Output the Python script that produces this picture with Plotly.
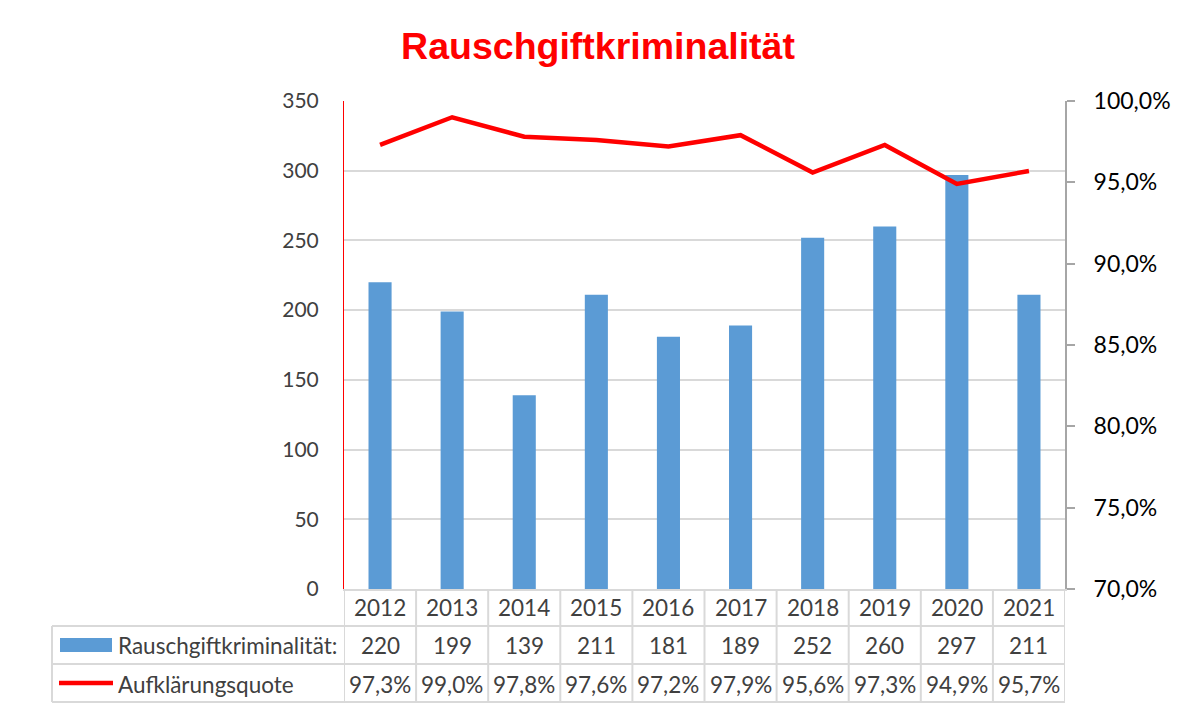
import plotly.graph_objects as go

# ---- data ----
years = ["2012", "2013", "2014", "2015", "2016", "2017", "2018", "2019", "2020", "2021"]
cases = [220, 199, 139, 211, 181, 189, 252, 260, 297, 211]
quote = [97.3, 99.0, 97.8, 97.6, 97.2, 97.9, 95.6, 97.3, 94.9, 95.7]
series_names = ["Rauschgiftkriminalität:", "Aufklärungsquote"]
title_text = "Rauschgiftkriminalität"
left_ticks = [0, 50, 100, 150, 200, 250, 300, 350]

# ---- layout geometry (page pixels; page body has an 8px margin) ----
OFF = 8
W, H = 1182 - OFF, 710 - OFF
L, R, T, B = 344, 1065, 101, 589  # plot area in page pixels


def px(x):
    return (x - L) / (R - L)


def py(y):
    return (B - y) / (B - T)


BAR_COLOR = "#5b9bd5"
LINE_COLOR = "#ff0000"
GRID = "#d9d9d9"
TXT = "#404040"
FONT = "Lato"
TSIZE = 22.5

fig = go.Figure()
fig.add_trace(go.Bar(x=years, y=cases, marker=dict(color=BAR_COLOR, line=dict(width=0)),
                     width=0.32, name=series_names[0]))
fig.add_trace(go.Scatter(x=years, y=[q / 100 for q in quote], yaxis="y2", mode="lines",
                         line=dict(color=LINE_COLOR, width=4.5), name=series_names[1]))

shapes = []
ann = []

# chart border
shapes.append(dict(type="rect", xref="paper", yref="paper", x0=px(6), x1=px(1200), y0=py(5), y1=py(730),
                   line=dict(color=GRID, width=2), fillcolor="rgba(0,0,0,0)", layer="below"))

# table grid
for yy in [626, 664, 702]:
    shapes.append(dict(type="line", xref="paper", yref="paper", x0=px(52), x1=px(R), y0=py(yy), y1=py(yy),
                       line=dict(color=GRID, width=2)))
shapes.append(dict(type="line", xref="paper", yref="paper", x0=px(52), x1=px(52), y0=py(626), y1=py(702),
                   line=dict(color=GRID, width=2)))
for i in range(len(years) + 1):
    shapes.append(dict(type="line", xref="x", yref="paper", x0=i - 0.5, x1=i - 0.5, y0=py(B), y1=py(702),
                       line=dict(color=GRID, width=2)))

# legend keys in table
shapes.append(dict(type="rect", xref="paper", yref="paper", x0=px(60), x1=px(112), y0=py(638), y1=py(652),
                   fillcolor=BAR_COLOR, line=dict(width=0)))
shapes.append(dict(type="line", xref="paper", yref="paper", x0=px(59), x1=px(113), y0=py(683), y1=py(683),
                   line=dict(color=LINE_COLOR, width=4.5)))
ann.append(dict(text=series_names[0], xref="paper", yref="paper", x=px(116), y=py(645), xanchor="left",
                yanchor="middle", showarrow=False, font=dict(family=FONT, size=TSIZE, color=TXT)))
ann.append(dict(text=series_names[1], xref="paper", yref="paper", x=px(116), y=py(684), xanchor="left",
                yanchor="middle", showarrow=False, font=dict(family=FONT, size=TSIZE, color=TXT)))

# table values
for i, (yr, c, q) in enumerate(zip(years, cases, quote)):
    for txt, yy in [(yr, 607), (str(c), 645), (f"{q:.1f}%".replace(".", ","), 684)]:
        ann.append(dict(text=txt, xref="x", yref="paper", x=i, y=py(yy), showarrow=False,
                        xanchor="center", yanchor="middle", font=dict(family=FONT, size=TSIZE, color=TXT)))

fig.update_layout(
    width=W, height=H,
    margin=dict(l=L - OFF, r=W - (R - OFF), t=T - OFF, b=H - (B - OFF), pad=0),
    paper_bgcolor="white", plot_bgcolor="white",
    separators=",.",
    showlegend=False,
    hovermode=False,
    title=dict(text=f"<b>{title_text}</b>", xref="container", yref="container",
               x=(598 - OFF) / W, y=1 - (46 - OFF) / H,
               xanchor="center", yanchor="middle",
               font=dict(family="Liberation Sans", size=37.5, color=LINE_COLOR)),
    xaxis=dict(type="category", range=[-0.5, len(years) - 0.5], showticklabels=False, ticks="",
               showgrid=False, showline=True, linecolor=GRID, linewidth=2, zeroline=False),
    yaxis=dict(range=[0, 350], tickvals=left_ticks, showgrid=True, gridcolor=GRID, gridwidth=2,
               zeroline=False, showline=True, linecolor=LINE_COLOR, linewidth=1, ticks="",
               ticklabelstandoff=20, tickfont=dict(family=FONT, size=21, color=TXT)),
    yaxis2=dict(overlaying="y", side="right", range=[0.70, 1.00], dtick=0.05, tick0=0.70, tickformat=".1%",
                showgrid=False, zeroline=False, showline=True, linecolor="#a6a6a6", linewidth=2,
                ticks="outside", ticklen=8, tickwidth=2, tickcolor="#a6a6a6", ticklabelstandoff=14,
                tickfont=dict(family=FONT, size=23, color="#000000")),
    shapes=shapes,
    annotations=ann,
)

fig.write_html("out.html")
